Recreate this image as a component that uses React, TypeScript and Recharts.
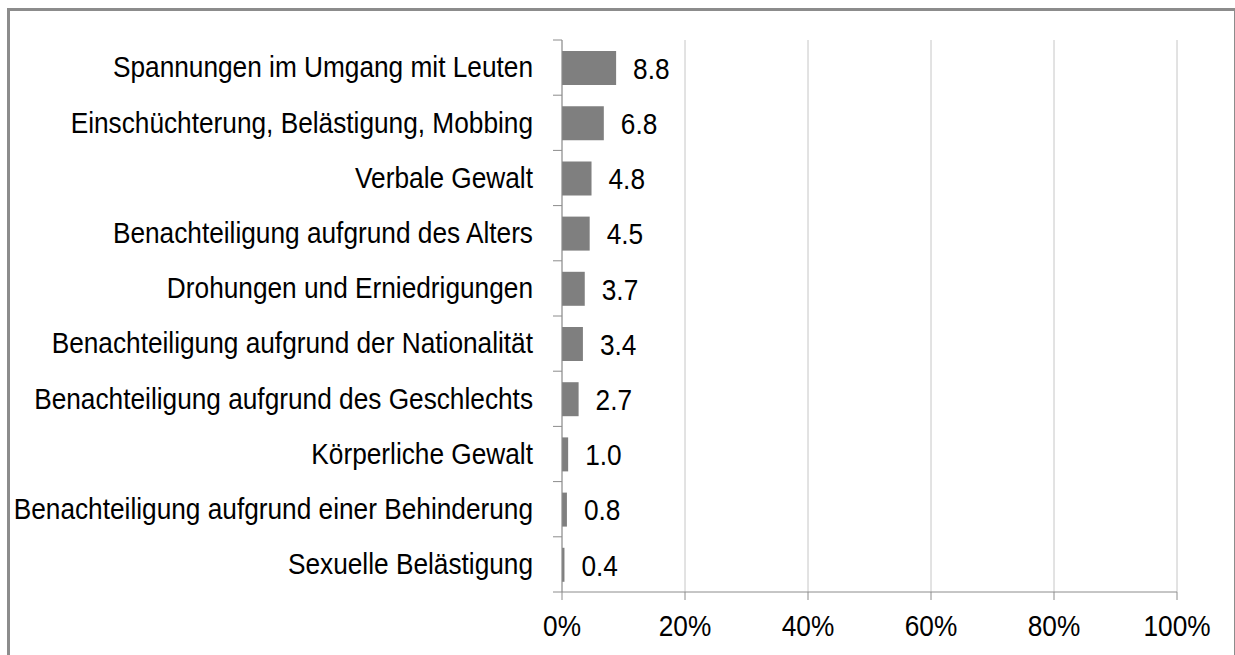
import { BarChart, Bar, XAxis, YAxis, CartesianGrid, LabelList } from "recharts";

const categories = [
  "Spannungen im Umgang mit Leuten",
  "Einschüchterung, Belästigung, Mobbing",
  "Verbale Gewalt",
  "Benachteiligung aufgrund des Alters",
  "Drohungen und Erniedrigungen",
  "Benachteiligung aufgrund der Nationalität",
  "Benachteiligung aufgrund des Geschlechts",
  "Körperliche Gewalt",
  "Benachteiligung aufgrund einer Behinderung",
  "Sexuelle Belästigung",
];
const values = [8.8, 6.8, 4.8, 4.5, 3.7, 3.4, 2.7, 1.0, 0.8, 0.4];
const xTicks = [0, 20, 40, 60, 80, 100];

const data = categories.map((name, i) => ({ name, value: values[i] }));

const W = 1235;
const H = 655;
const margin = { top: 40, right: 58, bottom: 33, left: 0 };
const X_AXIS_H = 30;
const Y_AXIS_W = 562;
const bandSize = (H - margin.top - margin.bottom - X_AXIS_H) / categories.length;

// narrow fonts are not installed, so squeeze Liberation Sans horizontally
const FONT = '"Liberation Sans", Arial, sans-serif';
const FS = 30;
const SX = 0.875;
const AXIS = "#8c8c8c";

function NarrowText({ x, y, anchor, dy, children }: any) {
  return (
    <text
      transform={`translate(${x},${y}) scale(${SX},1)`}
      x={0}
      y={0}
      dy={dy}
      textAnchor={anchor}
      fill="#000"
      fontSize={FS}
      fontFamily={FONT}
    >
      {children}
    </text>
  );
}

function CategoryTick(props: any) {
  const { x, y, payload, index } = props;
  const last = index === categories.length - 1;
  return (
    <g>
      <line x1={Y_AXIS_W - 9} x2={Y_AXIS_W} y1={y - bandSize / 2} y2={y - bandSize / 2} stroke={AXIS} />
      {last && (
        <line x1={Y_AXIS_W - 9} x2={Y_AXIS_W} y1={y + bandSize / 2} y2={y + bandSize / 2} stroke={AXIS} />
      )}
      <NarrowText x={x} y={y - 1} anchor="end" dy="0.36em">
        {payload.value}
      </NarrowText>
    </g>
  );
}

function PercentTick(props: any) {
  const { x, y, payload } = props;
  return (
    <NarrowText x={x} y={y} anchor="middle" dy="0.71em">
      {`${payload.value}%`}
    </NarrowText>
  );
}

function ValueLabel(props: any) {
  const { x, y, width, height, value } = props;
  return (
    <NarrowText x={x + width + 17} y={y + height / 2} anchor="start" dy="0.36em">
      {Number(value).toFixed(1)}
    </NarrowText>
  );
}

export default function App() {
  return (
    <div style={{ position: "fixed", left: 0, top: 0, width: W, height: H, overflow: "hidden", background: "#fff" }}>
      <div
        style={{
          position: "absolute",
          left: 7,
          top: 8,
          width: 1224,
          height: 700,
          border: "3px solid #8c8c8c",
        }}
      />
      <div style={{ position: "absolute", left: 0, top: 0 }}>
        <BarChart width={W} height={H} data={data} layout="vertical" margin={margin} barSize={34}>
          <CartesianGrid horizontal={false} stroke="#c6c6c6" />
          <XAxis
            type="number"
            domain={[0, 100]}
            ticks={xTicks}
            interval={0}
            height={X_AXIS_H}
            axisLine={{ stroke: AXIS }}
            tickLine={{ stroke: AXIS }}
            tickSize={8}
            tickMargin={15}
            tick={<PercentTick />}
          />
          <YAxis
            type="category"
            dataKey="name"
            width={Y_AXIS_W}
            axisLine={{ stroke: AXIS }}
            tickLine={false}
            tickSize={9}
            tickMargin={20}
            interval={0}
            tick={<CategoryTick />}
          />
          <Bar dataKey="value" fill="#7f7f7f" isAnimationActive={false}>
            <LabelList dataKey="value" content={<ValueLabel />} />
          </Bar>
        </BarChart>
      </div>
    </div>
  );
}
